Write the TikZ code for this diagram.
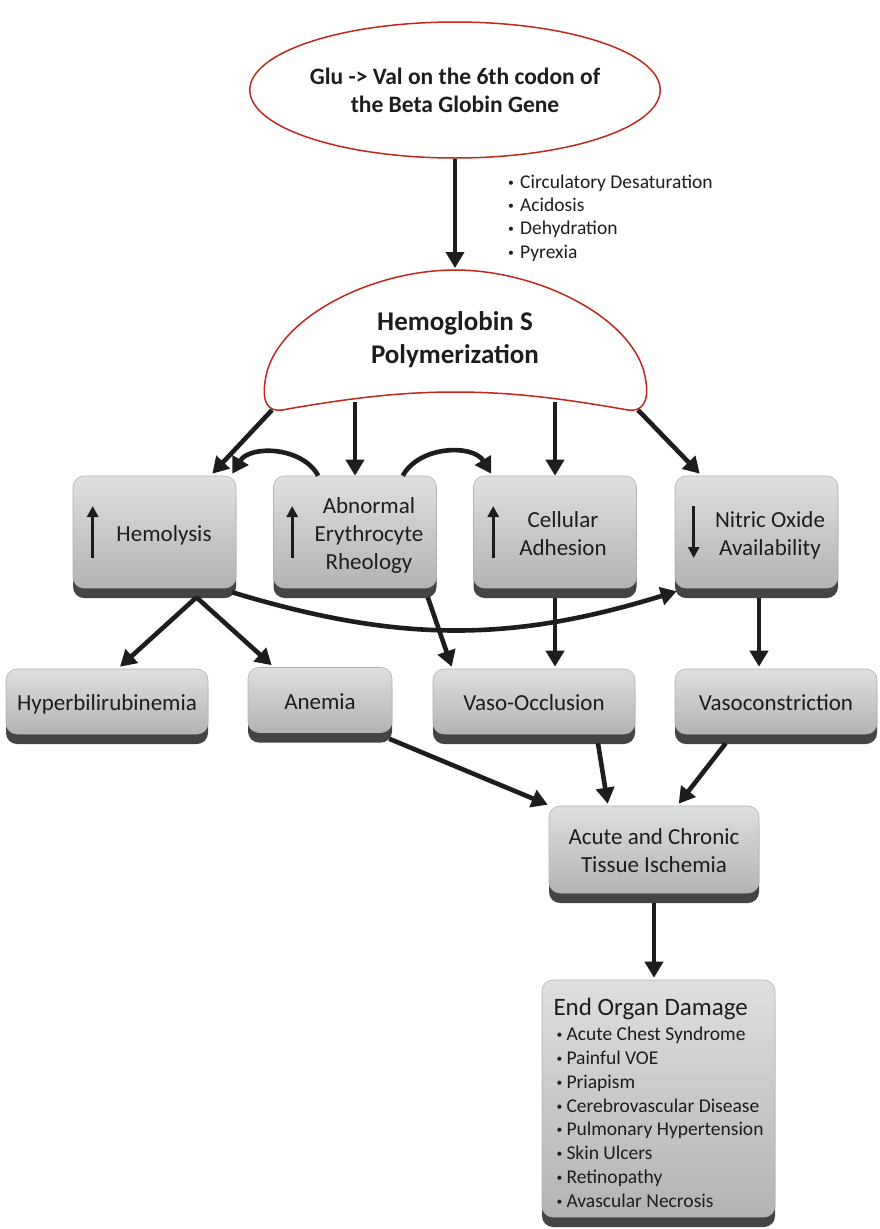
\documentclass[tikz,border=0pt]{standalone}
\usepackage{fontspec}
\setmainfont{Carlito}
\usetikzlibrary{arrows.meta,shapes.geometric,shadows,calc}

\definecolor{geneRed}{RGB}{192,40,30}
\definecolor{boxTop}{RGB}{222,223,225}
\definecolor{boxBot}{RGB}{178,179,181}
\definecolor{boxShade}{RGB}{68,68,68}
\definecolor{ink}{RGB}{30,28,30}

\newcommand{\boxtext}[2]{\hspace{#1}\raisebox{-3.5pt}[\height][\depth]{\begin{tabular}{@{}c@{}}#2\end{tabular}}}
\newcommand{\smallbullet}{\raisebox{0.1em}{\scalebox{0.6}{•}}}
\newcommand{\organitem}[1]{\makebox[13pt][l]{\hspace{3pt}\smallbullet}#1}
\newcommand{\triggeritem}[1]{\makebox[14pt][l]{\hspace{2pt}\smallbullet}#1}

\tikzset{
  causebox/.style={rectangle, rounded corners=11pt, top color=boxTop, bottom color=boxBot,
    draw=black!30, line width=0.6pt, inner sep=0pt, text=ink,
    font=\fontsize{23}{28}\selectfont,
    drop shadow={shadow xshift=0pt, shadow yshift=-10pt, fill=boxShade, opacity=1}},
  flow/.style={line width=4.6pt, draw=ink, -{Triangle[length=16pt,width=18pt]}},
  trend/.style={line width=3pt, draw=ink, -{Triangle[length=11pt,width=11pt]}},
}

\begin{document}
\begin{tikzpicture}[x=1pt,y=-1pt]
\useasboundingbox (0,0) rectangle (879,1229);

% mutation
\node[ellipse, draw=geneRed, line width=1.5pt, minimum width=350pt, minimum height=136pt,
  inner sep=0pt, align=center, text=ink, font=\bfseries\fontsize{23.5}{28}\selectfont]
  (gene) at (455,90) {Glu -> Val on the 6th codon of\\the Beta Globin Gene};
\node[anchor=west, align=left, inner sep=0pt, text=ink, font=\fontsize{19.5}{23.3}\selectfont]
  (triggers) at (506,218) {\triggeritem{Circulatory Desaturation}\\
  \triggeritem{Acidosis}\\ \triggeritem{Dehydration}\\ \triggeritem{Pyrexia}};

% polymerization
\draw[geneRed, line width=1.5pt, fill=white] (455,270) .. controls (370,270) and (272,320) .. (265,382)
  .. controls (262,402) and (268,412) .. (282,410) .. controls (350,398) and (400,392) .. (455,392)
  .. controls (510,392) and (560,398) .. (628,410) .. controls (642,412) and (649,402) .. (646,382)
  .. controls (639,320) and (540,270) .. (455,270) -- cycle;
\node[align=center, inner sep=0pt, text=ink, font=\bfseries\fontsize{27}{33}\selectfont]
  (poly) at (455,340) {Hemoglobin S\\Polymerization};
\coordinate (polytop) at (455,268);
\coordinate (polyL) at (272,410);
\coordinate (polyA) at (355,402);
\coordinate (polyC) at (555,402);
\coordinate (polyR) at (638,410);

% first row
\node[causebox, minimum width=163pt, minimum height=112pt] (hemo) at (154.5,532) {\boxtext{19pt}{Hemolysis}};
\node[causebox, minimum width=163pt, minimum height=112pt] (rheo) at (355,532) {\boxtext{28pt}{Abnormal\\Erythrocyte\\Rheology}};
\node[causebox, minimum width=163pt, minimum height=112pt] (adhes) at (555,532) {\boxtext{16pt}{Cellular\\Adhesion}};
\node[causebox, minimum width=163pt, minimum height=112pt] (nitric) at (756.5,532) {\boxtext{27pt}{Nitric Oxide\\Availability}};
\foreach \n/\dx in {hemo/20,rheo/19,adhes/20}
  \draw[trend] ($(\n.west)+(\dx,26)$) -- ($(\n.west)+(\dx,-26)$);
\draw[trend] ($(nitric.west)+(19,-26)$) -- ($(nitric.west)+(19,26)$);

% second row
\node[causebox, minimum width=202pt, minimum height=65pt] (hyper) at (107,701.5) {\boxtext{0pt}{Hyperbilirubinemia}};
\node[causebox, minimum width=144pt, minimum height=65pt] (anemia) at (320,700) {\boxtext{0pt}{Anemia}};
\node[causebox, minimum width=202pt, minimum height=65pt] (vaso) at (534,701.5) {\boxtext{0pt}{Vaso-Occlusion}};
\node[causebox, minimum width=202pt, minimum height=65pt] (vasoc) at (776,701.5) {\boxtext{0pt}{Vasoconstriction}};

% outcome
\node[causebox, minimum width=210pt, minimum height=87pt] (ischemia) at (654,849.5) {\boxtext{0pt}{Acute and Chronic\\Tissue Ischemia}};
\node[causebox, minimum width=233pt, minimum height=237pt, font=\fontsize{19.5}{23.8}\selectfont]
  (organ) at (658.5,1098.5) {\raisebox{-8pt}[\height][\depth]{\begin{tabular}{@{}l@{}}
  {\fontsize{25}{25}\selectfont End Organ Damage}\\[1pt]
  \organitem{Acute Chest Syndrome}\\ \organitem{Painful VOE}\\ \organitem{Priapism}\\
  \organitem{Cerebrovascular Disease}\\ \organitem{Pulmonary Hypertension}\\
  \organitem{Skin Ulcers}\\ \organitem{Retinopathy}\\ \organitem{Avascular Necrosis}
  \end{tabular}}};

% connectors
\draw[flow] (gene.south) -- (polytop);
\draw[flow] (polyL) -- ($(hemo.north east)+(-24,-2)$);
\draw[flow] (polyA) -- (rheo.north);
\draw[flow] (polyC) -- (adhes.north);
\draw[flow] (polyR) -- ($(nitric.north west)+(25,-2)$);
\draw[flow] ($(rheo.north west)+(45,0)$) to[bend right=60] ($(hemo.north east)+(-4,-2)$);
\draw[flow] ($(rheo.north east)+(-34,0)$) to[bend left=60] ($(adhes.north west)+(18,-2)$);
\draw[flow] ($(hemo.south)+(42,9)$) -- ($(hyper.north)+(13,-2)$);
\draw[flow] ($(hemo.south)+(42,9)$) -- ($(anemia.north west)+(24,-2)$);
\draw[flow] ($(hemo.south east)+(-4,4)$) to[bend right=17] ($(nitric.south west)+(2,3)$);
\draw[flow] ($(rheo.south east)+(-9,9)$) -- ($(vaso.north west)+(19,-2)$);
\draw[flow] ($(adhes.south)+(0,10)$) -- ($(vaso.north)+(21,-2)$);
\draw[flow] ($(nitric.south)+(2.5,10)$) -- ($(vasoc.north)+(-17,-2)$);
\draw[flow] ($(anemia.south east)+(-3,6)$) -- ($(ischemia.north west)+(-1,-1)$);
\draw[flow] ($(vaso.south)+(64,9)$) -- ($(ischemia.north west)+(59,-2)$);
\draw[flow] ($(vasoc.south west)+(51,9)$) -- ($(ischemia.north west)+(130,-2)$);
\draw[flow] ($(ischemia.south)+(0,10)$) -- ($(organ.north)+(-4.5,-2)$);
\end{tikzpicture}
\end{document}
